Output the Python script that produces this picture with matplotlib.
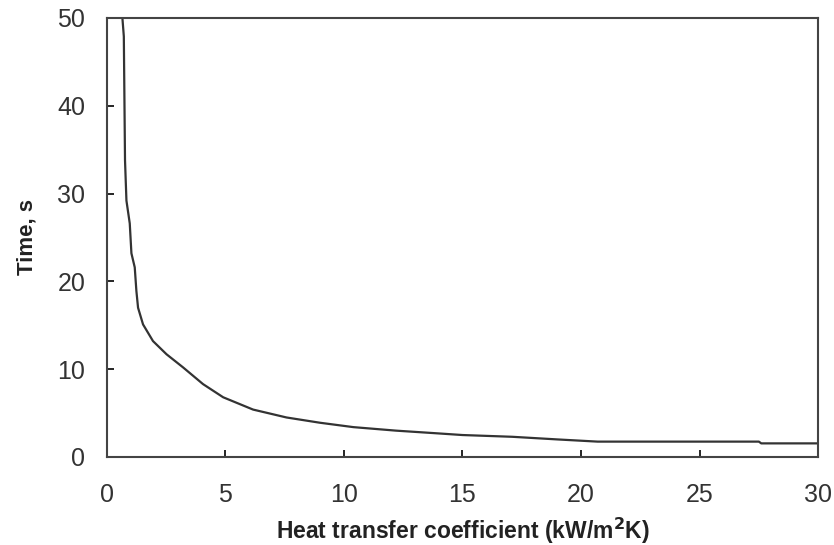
import matplotlib
matplotlib.use('Agg')
import matplotlib.pyplot as plt

# heat transfer coefficient (kW/m2K) vs time (s)
h_coef = [0.66, 0.72, 0.77, 0.83, 0.97, 1.04, 1.18, 1.25, 1.32, 1.53, 1.95, 2.52,
          3.22, 4.06, 4.91, 6.17, 7.58, 8.99, 10.4, 12.2, 13.9, 15.0, 17.1, 19.0,
          20.7, 27.5, 27.6, 30.0]
time_s = [50, 47.9, 33.8, 29.2, 26.6, 23.2, 21.6, 18.9, 17.0, 15.1, 13.2, 11.7,
          10.2, 8.3, 6.8, 5.4, 4.5, 3.9, 3.4, 3.0, 2.7, 2.5, 2.3, 2.0,
          1.75, 1.75, 1.55, 1.55]

x_ticks = [0, 5, 10, 15, 20, 25, 30]
y_ticks = [0, 10, 20, 30, 40, 50]

plt.rcParams['font.family'] = ['Liberation Sans', 'DejaVu Sans']

fig = plt.figure(figsize=(8.34, 5.45), dpi=100)
ax = fig.add_axes([0.128, 0.1615, 0.853, 0.8055])

ax.plot(h_coef, time_s, color='#333333', linewidth=1.6)

ax.set_xlim(0, 30)
ax.set_ylim(0, 50)
ax.set_xticks(x_ticks)
ax.set_yticks(y_ticks)
ax.tick_params(direction='in', length=5, width=1.2, labelsize=18,
               labelcolor='#333333')
ax.tick_params(axis='x', pad=18.5)
ax.tick_params(axis='y', pad=15.5)
for s in ax.spines.values():
    s.set_linewidth(1.5)
    s.set_color('#444444')

ax.set_xlabel('Heat transfer coefficient (kW/m$^\\mathbf{2}$K)', fontsize=16.5,
              fontweight='bold', color='#222222')
ax.xaxis.set_label_coords(0.5, -0.135)
ax.set_ylabel('Time, s', fontsize=16, fontweight='bold', color='#222222',
              labelpad=14)

fig.savefig('out.png', dpi=100)
